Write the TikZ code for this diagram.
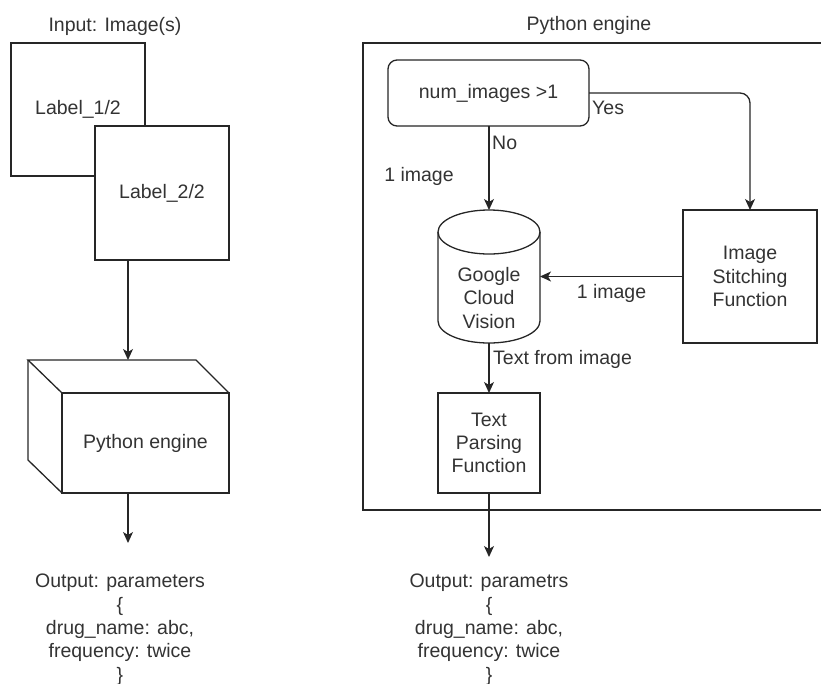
\documentclass[tikz,border=0pt]{standalone}
\usepackage{fontspec}
\setmainfont{Liberation Sans}
\usetikzlibrary{arrows.meta}

\begin{document}
\begin{tikzpicture}[x=1pt,y=-1pt,
    line/.style={draw=black!85, line width=1.3pt},
    box/.style={line, rectangle, fill=white, inner sep=0pt, outer sep=0pt, text=black!80, align=center},
    txt/.style={inner sep=0pt, text=black!80, align=center},
    arr/.style={line, -{Stealth[length=11pt, width=10pt, inset=3pt]}},
    font=\fontsize{19.5}{23.3}\selectfont]
    \useasboundingbox (0,0) rectangle (821,683);

    % left side: input images
    \node[txt] (intitle) at (115,26) {Input: Image(s)};
    \node[box, minimum width=134pt, minimum height=133pt] (lab1) at (78,109.5) {Label\_1/2};
    \node[box, minimum width=134pt, minimum height=134pt] (lab2) at (162,193) {Label\_2/2};

    % python engine as a cube
    \node[box, minimum width=167pt, minimum height=100pt] (pyeng) at (145.5,443) {Python engine};
    \coordinate (cubetop) at (128,360);
    \draw[line] (pyeng.north west) -- (28,360) -- (196,360) -- (pyeng.north east); % back top
    \draw[line] (28,360) -- (28,460) -- (pyeng.south west); % back left
    \draw[arr] (lab2.south -| cubetop) -- (cubetop);
    \coordinate (outLtip) at (128,543);
    \draw[arr] (pyeng.south -| cubetop) -- (outLtip);
    \node[txt, anchor=north] (outL) at (120,574) {Output: parameters\\\{\\drug\_name: abc,\\frequency: twice\\\}};

    % right side: inside the engine
    \node[txt] (pytitle) at (589,25) {Python engine};
    \draw[line] (363,43) rectangle (840,510); % engine frame
    \node[box, rounded corners=9pt, minimum width=201pt, minimum height=66pt] (dec) at (488.5,93) {num\_images >1};
    \node[inner sep=0pt, outer sep=0pt, minimum width=102pt, minimum height=133pt] (gcv) at (489,276.5) {};
    \draw[line] (438,232) -- (438,321) arc[start angle=180, end angle=360, x radius=51pt, y radius=22pt] -- (540,232); % cylinder body
    \draw[line] (489,232) ellipse[x radius=51pt, y radius=22pt]; % cylinder top
    \node[txt] (gcvtxt) at (489,298) {Google\\Cloud\\Vision};
    \node[box, minimum width=134pt, minimum height=133pt] (stitch) at (750,276.5) {Image\\Stitching\\Function};
    \node[box, minimum width=102pt, minimum height=100pt] (parse) at (489,443) {Text\\Parsing\\Function};

    \draw[arr, rounded corners=10pt] (dec.east) -| (stitch.north);
    \node[txt, anchor=west] (yes) at (592,108) {Yes};
    \draw[arr] (dec.south -| gcv.north) -- (gcv.north);
    \node[txt, anchor=west] (no) at (492,143) {No};
    \node[txt] (oneA) at (419,176) {1 image};
    \draw[arr] (stitch.west) -- (gcv.east);
    \node[txt] (oneB) at (611.5,293) {1 image};
    \draw[arr] (gcv.south) -- (parse.north);
    \node[txt, anchor=west] (tfi) at (493,359) {Text from image};
    \coordinate (outRtip) at (489,557);
    \draw[arr] (parse.south) -- (outRtip);
    \node[txt, anchor=north] (outR) at (489,574) {Output: parametrs\\\{\\drug\_name: abc,\\frequency: twice\\\}};
\end{tikzpicture}
\end{document}
